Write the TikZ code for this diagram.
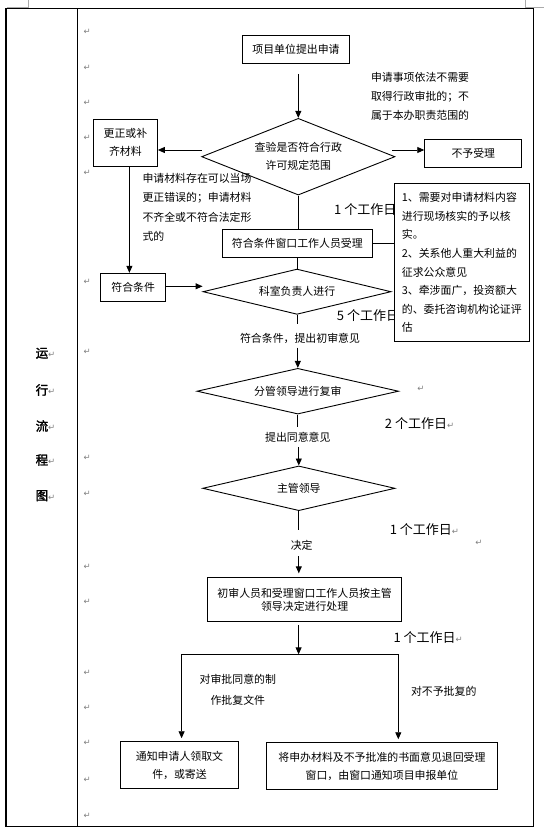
\documentclass[tikz,border=0pt]{standalone}
\usepackage{fontspec}
\setmainfont{Noto Sans CJK SC}
\newfontfamily\pmfont{DejaVu Sans}
\newfontfamily\boldcjk[FakeBold=2]{Noto Sans CJK SC}
\usetikzlibrary{arrows.meta,shapes.geometric,calc}
\newcommand{\fsz}[2]{\fontsize{#1}{#2}\selectfont}
\definecolor{pmgray}{RGB}{128,128,128}
\definecolor{cropgray}{RGB}{170,170,170}
\newcommand{\parmark}{{\pmfont\fontsize{8.5}{8.5}\selectfont\textcolor{pmgray}{↵}}}
\begin{document}
\begin{tikzpicture}[x=1pt,y=-1pt,
  line/.style={line width=0.9pt},
  arr/.style={line width=0.9pt,-{Triangle[length=7pt,width=6pt]}},
  box/.style={draw,line width=0.9pt,inner sep=0pt,align=center,font=\fsz{10.9}{18}},
  dia/.style={draw,diamond,line width=0.9pt,inner sep=0pt,align=center,font=\fsz{10.9}{18}},
  txt/.style={inner sep=0pt,align=left,font=\fsz{10.9}{19}},
  ctxt/.style={inner sep=0pt,align=center,font=\fsz{10.9}{19}},
  days/.style={inner sep=0pt,anchor=west,font=\fsz{13}{13}},
  pmk/.style={inner sep=0pt,font=\pmfont\fsz{8.5}{8.5},text=pmgray},
]
\useasboundingbox (0,0) rectangle (544,835);
% page corner marks
\draw[cropgray,line width=0.8pt] (7,7.2) -- (28,7.2) -- (28,0);
\draw[cropgray,line width=0.8pt] (525.7,0) -- (525.7,7.2) -- (544,7.2);
% table frame
\draw[line width=1.1pt] (6,8.3) rectangle (533.3,826.7);
\draw[line width=1.1pt] (77.7,8.3) -- (77.7,826.7);

% left column title
\node[anchor=west,inner sep=0pt,font=\boldcjk\fsz{12.5}{12.5}] (c1) at (35.5,353.3) {运\parmark};
\node[anchor=west,inner sep=0pt,font=\boldcjk\fsz{12.5}{12.5}] (c2) at (35.5,390) {行\parmark};
\node[anchor=west,inner sep=0pt,font=\boldcjk\fsz{12.5}{12.5}] (c3) at (35.5,426) {流\parmark};
\node[anchor=west,inner sep=0pt,font=\boldcjk\fsz{12.5}{12.5}] (c4) at (35.5,460) {程\parmark};
\node[anchor=west,inner sep=0pt,font=\boldcjk\fsz{12.5}{12.5}] (c5) at (35.5,495.7) {图\parmark};

% paragraph marks in column 2
\foreach \yy [count=\i] in {32.3,67.7,103.3,138.3,173.3,281.7,351.7,458.3,494,566.7,601.7,672.7,708.3,743.3,780,816}
  \node[pmk] (pm\i) at (87.3,\yy) {↵};
\node[pmk] (pmx1) at (421,389.3) {↵};
\node[pmk] (pmx2) at (479,543.3) {↵};

% main nodes
\node[box,minimum width=107.3pt,minimum height=28pt] (a) at (296,49.3) {项目单位提出申请};
\node[dia,minimum width=193.3pt,minimum height=76.7pt,aspect=2.52] (d1) at (298.3,156.7) {查验是否符合行政\\许可规定范围};
\node[box,minimum width=64pt,minimum height=46.7pt] (b) at (125.4,142.7) {更正或补\\齐材料};
\node[box,minimum width=97.2pt,minimum height=28pt] (n) at (473.3,153.3) {不予受理};
\node[txt,anchor=west] (note1) at (370.8,96.2) {申请事项依法不需要\\取得行政审批的；不\\属于本办职责范围的};
\node[txt,anchor=west,font=\fsz{10.9}{19.2}] (note2) at (142.3,207.4) {申请材料存在可以当场\\更正错误的；申请材料\\不齐全或不符合法定形\\式的};
\node[box,minimum width=150pt,minimum height=28pt] (c) at (297.3,243.3) {符合条件窗口工作人员受理};
\node[days] (t1) at (334,210) {1 个工作日};
\node[days] (t5) at (336.7,315.7) {5 个工作日};
\node[box,fill=white,align=left,minimum width=135pt,minimum height=158.4pt,font=\fsz{10.9}{18.66}] (notes) at (461.8,262.5)
  {1、需要对申请材料内容\\进行现场核实的予以核\\实。\\2、关系他人重大利益的\\征求公众意见\\3、牵涉面广，投资额大\\的、委托咨询机构论证评\\估};
\node[box,minimum width=65pt,minimum height=28pt] (f0) at (133.2,287.3) {符合条件};
\node[dia,minimum width=188pt,minimum height=45.3pt,aspect=4.15] (d2) at (297,291.7) {科室负责人进行};
\node[ctxt] (s1t) at (300,338.3) {符合条件，提出初审意见};
\node[dia,minimum width=201.6pt,minimum height=45.7pt,aspect=4.41] (d3) at (297.8,391.2) {分管领导进行复审};
\node[days] (t2) at (384.7,423.3) {2 个工作日\parmark};
\node[ctxt] (s2t) at (297.8,437.3) {提出同意意见};
\node[dia,minimum width=192.3pt,minimum height=44.7pt,aspect=4.3] (d4) at (298.8,488.3) {主管领导};
\node[days] (t3) at (389.6,530) {1 个工作日\parmark};
\node[ctxt] (s3t) at (301.7,545.3) {决定};
\node[box,minimum width=194.1pt,minimum height=43.7pt,font=\fsz{10.9}{13.3}] (e) at (304.65,599.6) {初审人员和受理窗口工作人员按主管\\领导决定进行处理};
\node[days] (t4) at (393.4,637.3) {1 个工作日\parmark};
\node[ctxt,font=\fsz{10.9}{20.7}] (s4t) at (237.8,689.7) {对审批同意的制\\作批复文件};
\node[txt,anchor=west] (s5t) at (410.8,691) {对不予批复的};
\node[box,minimum width=118pt,minimum height=46.6pt] (f) at (179.5,765) {通知申请人领取文\\件，或寄送};
\node[box,minimum width=230.5pt,minimum height=46.6pt] (g) at (381.95,766) {将申办材料及不予批准的书面意见退回受理\\窗口，由窗口通知项目申报单位};

% connectors
\draw[arr] ($(d1.north |- a.south)+(0,10)$) -- (d1.north);
\coordinate (d1w) at ($(d1.west)+(1,-6.7)$);
\draw[arr] (d1w) -- (d1w -| b.east);
\coordinate (d1e) at ($(d1.east)+(-3,-6.7)$);
\draw[arr] (d1e) -- (d1e -| n.west);
\coordinate (bs) at ($(b.south)+(4,0)$);
\draw[arr] (bs) -- (bs |- f0.north);
\draw[line] (d1.south) -- (d1.south |- c.north);
\draw[line] (c.east) -- (c.east -| notes.west);
\draw[line] (c.south) -- (c.south |- d2.north);
\coordinate (f0e) at ($(f0.east)+(0,-1)$);
\draw[arr] (f0e) -- (f0e -| d2.west);
\draw[line] (d2.south) -- ++(0,8.7);
\draw[arr] ($(d3.north)+(0,-20.4)$) -- (d3.north);
\draw[line] (d3.south) -- ++(0,12.7);
\draw[arr] ($(d4.north)+(0,-18.7)$) -- (d4.north);
\draw[line] (d4.south) -- ++(0,19.3);
\draw[arr,shorten >=4pt] ($(d4.south)+(0,45.3)$) -- (d4.south |- e.north);
\coordinate (sp) at (298.6,654.3);
\coordinate (spl) at (181.6,654.3);
\coordinate (spr) at (398.3,654.3);
\draw[arr] ($(sp |- e.south)+(0,3.3)$) -- (sp);
\draw[line] (spl) -- (spr);
\draw[arr,shorten >=3pt] (spl) -- (spl |- f.north);
\draw[arr,shorten >=3pt] (spr) -- (spr |- g.north);
\end{tikzpicture}
\end{document}
